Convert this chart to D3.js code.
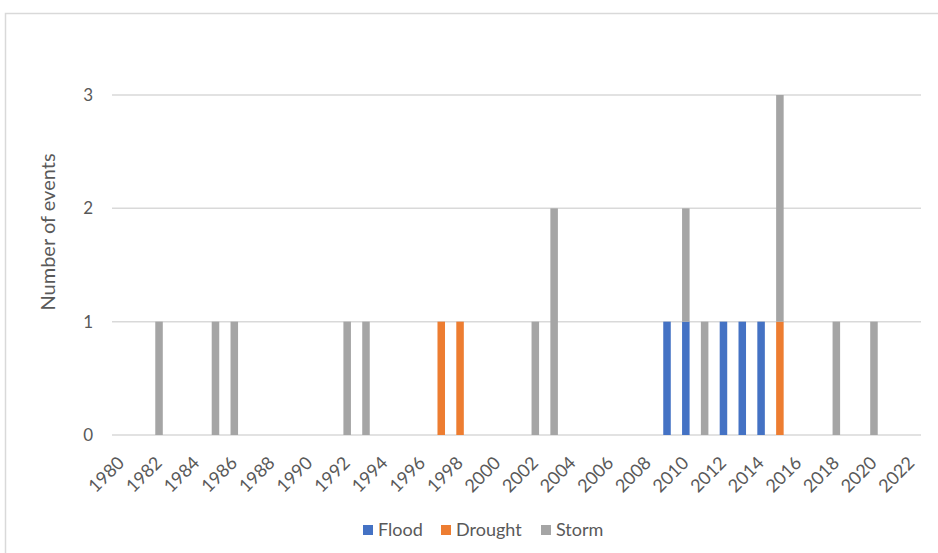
<!DOCTYPE html>
<html>
<head>
<meta charset="utf-8">
<script src="https://cdn.jsdelivr.net/npm/d3@7"></script>
<style>
  html, body { margin: 0; padding: 0; background: #fff; }
  svg { display: block; font-family: Lato, "Open Sans", sans-serif; }
</style>
</head>
<body>
<svg id="chart" width="938" height="553"></svg>
<script>
// Yearly counts of disaster events, 1980–2022
const years = d3.range(1980, 2023);
const flood   = [0,0,0,0,0,0,0,0,0,0, 0,0,0,0,0,0,0,0,0,0, 0,0,0,0,0,0,0,0,0,1, 1,0,1,1,1,0,0,0,0,0, 0,0,0];
const drought = [0,0,0,0,0,0,0,0,0,0, 0,0,0,0,0,0,0,1,1,0, 0,0,0,0,0,0,0,0,0,0, 0,0,0,0,0,1,0,0,0,0, 0,0,0];
const storm   = [0,0,1,0,0,1,1,0,0,0, 0,0,1,1,0,0,0,0,0,0, 0,0,1,2,0,0,0,0,0,0, 1,1,0,0,0,2,0,0,1,0, 1,0,0];
const seriesNames = ["Flood", "Drought", "Storm"];
const seriesColors = ["#4472C4", "#ED7D31", "#A5A5A5"];
const yTicks = [0, 1, 2, 3];

const svg = d3.select("#chart");
const W = 938, H = 553;
const plot = { left: 112, right: 921, top: 95, bottom: 435 };

// Chart frame
svg.append("rect")
  .attr("x", 5.5).attr("y", 13.5)
  .attr("width", W + 20).attr("height", H + 20)
  .attr("fill", "#fff").attr("stroke", "#D9D9D9").attr("stroke-width", 1.5);

const table = years.map((y, i) => ({ year: y, Flood: flood[i], Drought: drought[i], Storm: storm[i] }));
const stacked = d3.stack().keys(seriesNames)(table);

const x = d3.scaleBand().domain(years).range([plot.left, plot.right]).paddingInner(0.6).paddingOuter(0.3);
const y = d3.scaleLinear().domain([0, 3]).range([plot.bottom, plot.top]);

// Horizontal gridlines
svg.append("g").selectAll("line").data(yTicks).join("line")
  .attr("x1", plot.left).attr("x2", plot.right)
  .attr("y1", d => y(d)).attr("y2", d => y(d))
  .attr("stroke", "#D9D9D9").attr("stroke-width", 1.5);

// Y axis labels
const yAxis = d3.axisLeft(y).tickValues(yTicks).tickSize(0).tickPadding(19).tickFormat(d3.format("d"));
const gy = svg.append("g").attr("transform", `translate(${plot.left},0)`).call(yAxis);
gy.select(".domain").remove();
gy.selectAll("text").attr("fill", "#595959").style("font-size", "17px").style("font-family", "Lato, sans-serif");

// Stacked bars
svg.append("g").selectAll("g").data(stacked).join("g")
  .attr("fill", (d, i) => seriesColors[i])
  .selectAll("rect").data(d => d.filter(p => p[1] > p[0])).join("rect")
  .attr("x", d => x(d.data.year))
  .attr("width", x.bandwidth())
  .attr("y", d => y(d[1]))
  .attr("height", d => y(d[0]) - y(d[1]));

// X axis labels (every second year), rotated
const xAxis = d3.axisBottom(x).tickValues(years.filter(yr => yr % 2 === 0)).tickSize(0).tickPadding(0);
const gx = svg.append("g").attr("transform", `translate(0,${plot.bottom})`).call(xAxis);
gx.select(".domain").remove();
gx.selectAll("text")
  .attr("fill", "#595959").style("font-size", "18px").style("font-family", "Lato, sans-serif")
  .attr("text-anchor", "end")
  .attr("y", 0)
  .attr("dy", "0")
  .attr("transform", "translate(4,29) rotate(-45)");

// Y axis title
svg.append("text")
  .attr("transform", `translate(55,232) rotate(-90)`)
  .attr("text-anchor", "middle")
  .attr("fill", "#595959").style("font-size", "20px")
  .text("Number of events");

// Legend
const legendX = [363, 441, 541];
const legend = svg.append("g");
seriesNames.forEach((name, i) => {
  legend.append("rect").attr("x", legendX[i]).attr("y", 525).attr("width", 10).attr("height", 10).attr("fill", seriesColors[i]);
  legend.append("text").attr("x", legendX[i] + 15).attr("y", 536)
    .attr("fill", "#595959").style("font-size", "18px").text(name);
});
</script>
</body>
</html>
